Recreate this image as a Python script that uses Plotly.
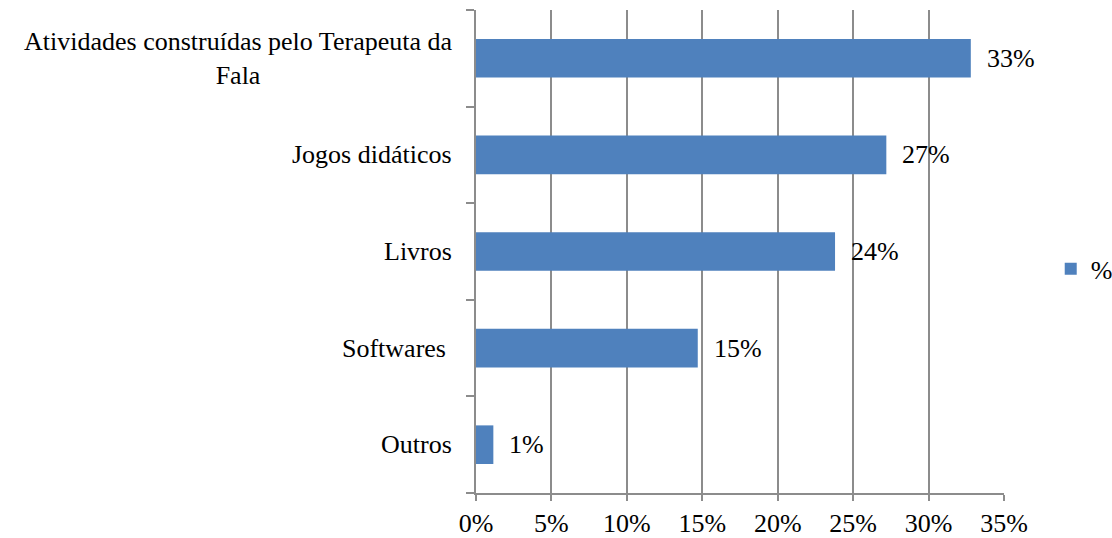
import plotly.graph_objects as go

categories = ["Atividades construídas pelo Terapeuta da<br>Fala", "Jogos didáticos", "Livros", "Softwares ", "Outros"]
values = [0.328, 0.272, 0.238, 0.147, 0.0115]
value_labels = ["33%", "27%", "24%", "15%", "1%"]
series_name = "%"
x_tick_vals = [0, 0.05, 0.10, 0.15, 0.20, 0.25, 0.30, 0.35]
x_tick_text = ["0%", "5%", "10%", "15%", "20%", "25%", "30%", "35%"]

FONT = "Liberation Serif, Times New Roman, serif"
GRID = "#8c8c8c"
FS = 26

fig = go.Figure()
fig.add_trace(go.Bar(
    y=categories, x=values, orientation="h", name=series_name,
    marker=dict(color="#4F81BD", line=dict(width=0)),
    showlegend=True,
))

annotations = []
for c, v, t in zip(categories, values, value_labels):
    annotations.append(dict(x=v, y=c, xref="x", yref="y", text=t, showarrow=False,
                            xanchor="left", yanchor="middle", xshift=14,
                            font=dict(family=FONT, size=FS, color="black")))
    annotations.append(dict(x=0, y=c, xref="paper", yref="y", text=c, showarrow=False,
                            xanchor="right", yanchor="middle", xshift=-22, align="center",
                            font=dict(family=FONT, size=FS, color="black")))

fig.update_layout(
    width=1112, height=538,
    margin=dict(l=476, r=108, t=10, b=45, autoexpand=False),
    paper_bgcolor="white", plot_bgcolor="white",
    bargap=0.6,
    font=dict(family=FONT, size=FS, color="black"),
    annotations=annotations,
    legend=dict(x=1.0885, y=0.464, xanchor="left", yanchor="middle",
                font=dict(family=FONT, size=FS), bgcolor="rgba(0,0,0,0)",
                itemwidth=30),
    xaxis=dict(range=[0, 0.35], tickvals=x_tick_vals, ticktext=x_tick_text,
               showgrid=True, gridcolor=GRID, gridwidth=1.5,
               showline=True, linecolor=GRID, linewidth=1.5,
               ticks="outside", ticklen=6, tickcolor=GRID, tickwidth=1.5,
               zeroline=False, tickfont=dict(family=FONT, size=FS)),
    yaxis=dict(categoryorder="array", categoryarray=categories[::-1],
               showticklabels=False, showgrid=False,
               showline=True, linecolor=GRID, linewidth=1.5,
               ticks="outside", ticklen=8, tickcolor=GRID, tickwidth=1.5,
               tickson="boundaries"),
)

fig.write_html("out.html", config={"displayModeBar": False},
               post_script="document.body.style.margin='0';document.body.style.overflow='hidden';")
